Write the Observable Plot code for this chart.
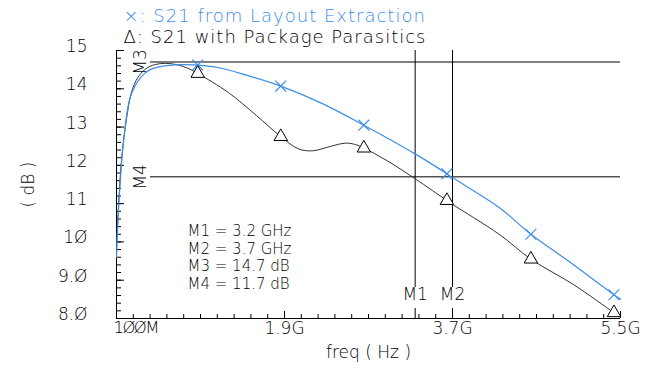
<!DOCTYPE html>
<html>
<head>
<meta charset="utf-8">
<script src="https://cdn.jsdelivr.net/npm/d3@7"></script>
<script src="https://cdn.jsdelivr.net/npm/@observablehq/plot@0.6"></script>
<style>
  html, body { margin: 0; padding: 0; background: #fff; }
  svg { font-family: "DejaVu Sans", sans-serif; }
</style>
</head>
<body>
<div id="chart"></div>
<script>
// ---- data ----
const legendLabels = ["×: S21 from Layout Extraction", "Δ: S21 with Package Parasitics"];

const blueFreq = [0.1, 0.13, 0.175, 0.25, 0.36, 0.46, 0.57, 0.8, 0.97, 1.2, 1.5, 1.86, 2.3, 2.75, 3.3, 3.64, 3.7, 4.2, 4.54, 5.0, 5.43, 5.5];
const blueDb   = [9.6, 11.2, 12.6, 13.8, 14.3, 14.5, 14.58, 14.63, 14.62, 14.55, 14.35, 14.07, 13.62, 13.05, 12.3, 11.78, 11.68, 10.9, 10.2, 9.4, 8.62, 8.5];

const blackFreq = [0.1, 0.13, 0.16, 0.2, 0.26, 0.33, 0.43, 0.55, 0.7, 0.85, 0.97, 1.3, 1.6, 1.86, 2.05, 2.2, 2.4, 2.55, 2.65, 2.75, 3.0, 3.3, 3.64, 3.7, 4.2, 4.54, 5.0, 5.43, 5.5];
const blackDb   = [9.9, 11.3, 12.3, 13.1, 13.9, 14.3, 14.55, 14.65, 14.65, 14.55, 14.4, 13.9, 13.3, 12.75, 12.43, 12.38, 12.5, 12.58, 12.55, 12.45, 12.12, 11.65, 11.08, 10.98, 10.2, 9.55, 8.88, 8.15, 8.03];

const markerFreq = [0.97, 1.86, 2.75, 3.64, 4.54, 5.43];
const blueMarkerDb  = [14.62, 14.07, 13.05, 11.78, 10.2, 8.62];
const blackMarkerDb = [14.4, 12.75, 12.45, 11.08, 9.55, 8.15];

const xTicks = [0.1, 1.9, 3.7, 5.5];
const xTickLabels = ["1ØØM", "1.9G", "3.7G", "5.5G"];
const yTicks = [8, 9, 10, 11, 12, 13, 14, 15];
const yTickLabels = ["8.Ø", "9.Ø", "1Ø", "11", "12", "13", "14", "15"];

const vMarkers = [3.3, 3.7];         // M1, M2 line positions (GHz)
const vMarkerNames = ["M1", "M2"];
const hMarkers = [14.7, 11.7];       // M3, M4 (dB)
const hMarkerNames = ["M3", "M4"];
const markerText = "M1 = 3.2 GHz\nM2 = 3.7 GHz\nM3 = 14.7 dB\nM4 = 11.7 dB";

const xTitle = "freq ( Hz )";
const yTitle = "( dB )";

// ---- derived tables ----
const blue = blueFreq.map((f, i) => ({f, db: blueDb[i]}));
const black = blackFreq.map((f, i) => ({f, db: blackDb[i]}));
const blueM = markerFreq.map((f, i) => ({f, db: blueMarkerDb[i]}));
const blackM = markerFreq.map((f, i) => ({f, db: blackMarkerDb[i]}));
const xMinor = d3.range(0, 31).map(i => 0.1 + i * 0.18);
const yMinor = d3.range(0, 36).map(i => 8 + i * 0.2);

const W = 650, H = 371, mL = 116, mR = 30, mT = 50, mB = 53;
const fw = W - mL - mR, fh = H - mT - mB;
const BLUE = "#3d8ee8";

const chart = Plot.plot({
  width: W, height: H,
  marginLeft: mL, marginRight: mR, marginTop: mT, marginBottom: mB,
  x: {domain: [0.1, 5.5], axis: null},
  y: {domain: [8, 15], axis: null},
  style: {fontFamily: '"DejaVu Sans", sans-serif', fontSize: "16px", fontWeight: 200},
  marks: [
    // axes lines
    Plot.ruleX([0.1], {stroke: "#000"}),
    Plot.ruleY([8], {stroke: "#000"}),
    // inward ticks
    Plot.tickY(yMinor, {y: d => d, insetRight: fw - 5, stroke: "#000"}),
    Plot.tickY(yTicks, {y: d => d, insetRight: fw - 8, stroke: "#000"}),
    Plot.tickX(xMinor, {x: d => d, insetTop: fh - 4, stroke: "#000"}),
    Plot.tickX(xTicks, {x: d => d, insetTop: fh - 7, stroke: "#000"}),
    // tick labels
    Plot.text(yTicks, {y: d => d, text: (d, i) => yTickLabels[i], frameAnchor: "left", dx: -29, dy: -4, textAnchor: "end", fill: "#000", fontSize: 17}),
    Plot.text(xTicks.slice(1), {x: d => d, text: (d, i) => xTickLabels[i + 1], frameAnchor: "bottom", lineAnchor: "top", dy: 3, fill: "#000", fontSize: 17}),
    Plot.text(xTicks.slice(0, 1), {x: d => d, text: (d, i) => xTickLabels[i], frameAnchor: "bottom", lineAnchor: "top", textAnchor: "start", dy: 3, dx: -3, fill: "#000", fontSize: 16.5}),
    // axis titles
    Plot.text([xTitle], {frameAnchor: "bottom", lineAnchor: "top", dy: 27, fill: "#000", fontSize: 17}),
    Plot.text([yTitle], {frameAnchor: "left", textAnchor: "middle", dx: -88, rotate: -90, fill: "#000", fontSize: 17}),
    // marker lines
    Plot.ruleX(vMarkers, {stroke: "#000", insetBottom: 31}),
    Plot.ruleX(vMarkers, {stroke: "#000", insetTop: fh - 10}),
    Plot.text(vMarkers, {x: d => d, text: (d, i) => vMarkerNames[i], frameAnchor: "bottom", dy: -19, fill: "#000", fontSize: 17}),
    Plot.ruleY(hMarkers, {stroke: "#000", insetLeft: 34}),
    Plot.text(hMarkers, {y: d => d, text: (d, i) => hMarkerNames[i], frameAnchor: "left", textAnchor: "middle", dx: 24, rotate: -90, fill: "#000", fontSize: 17}),
    Plot.text([markerText], {frameAnchor: "bottom-left", lineAnchor: "bottom", textAnchor: "start", dx: 71, dy: -30, lineHeight: 1.16, fill: "#000", fontSize: 15}),
    // curves
    Plot.line(black, {x: "f", y: "db", stroke: "#333", strokeWidth: 1, curve: "catmull-rom"}),
    Plot.line(blue, {x: "f", y: "db", stroke: BLUE, strokeWidth: 1.2, curve: "catmull-rom"}),
    Plot.dot(blueM, {x: "f", y: "db", symbol: "times", r: 5, stroke: BLUE, strokeWidth: 1.2}),
    Plot.dot(blackM, {x: "f", y: "db", symbol: "triangle", r: 5, stroke: "#000", fill: "#fff", strokeWidth: 1}),
    // legend
    Plot.text([legendLabels[0]], {frameAnchor: "top-left", lineAnchor: "middle", textAnchor: "start", dx: 7, dy: -34, fill: BLUE, fontSize: 18}),
    Plot.text([legendLabels[1]], {frameAnchor: "top-left", lineAnchor: "middle", textAnchor: "start", dx: 7, dy: -13, fill: "#000", fontSize: 18})
  ]
});
// letter spacing tweaks to match the reference's wide stroke font
d3.select(chart).selectAll("text")
  .filter(function () { return legendLabels.includes(this.textContent); })
  .style("letter-spacing", "1px");
d3.select(chart).selectAll("text")
  .filter(function () { return this.textContent === xTickLabels[0]; })
  .style("letter-spacing", "-1.6px");
document.getElementById("chart").appendChild(chart);
</script>
</body>
</html>
